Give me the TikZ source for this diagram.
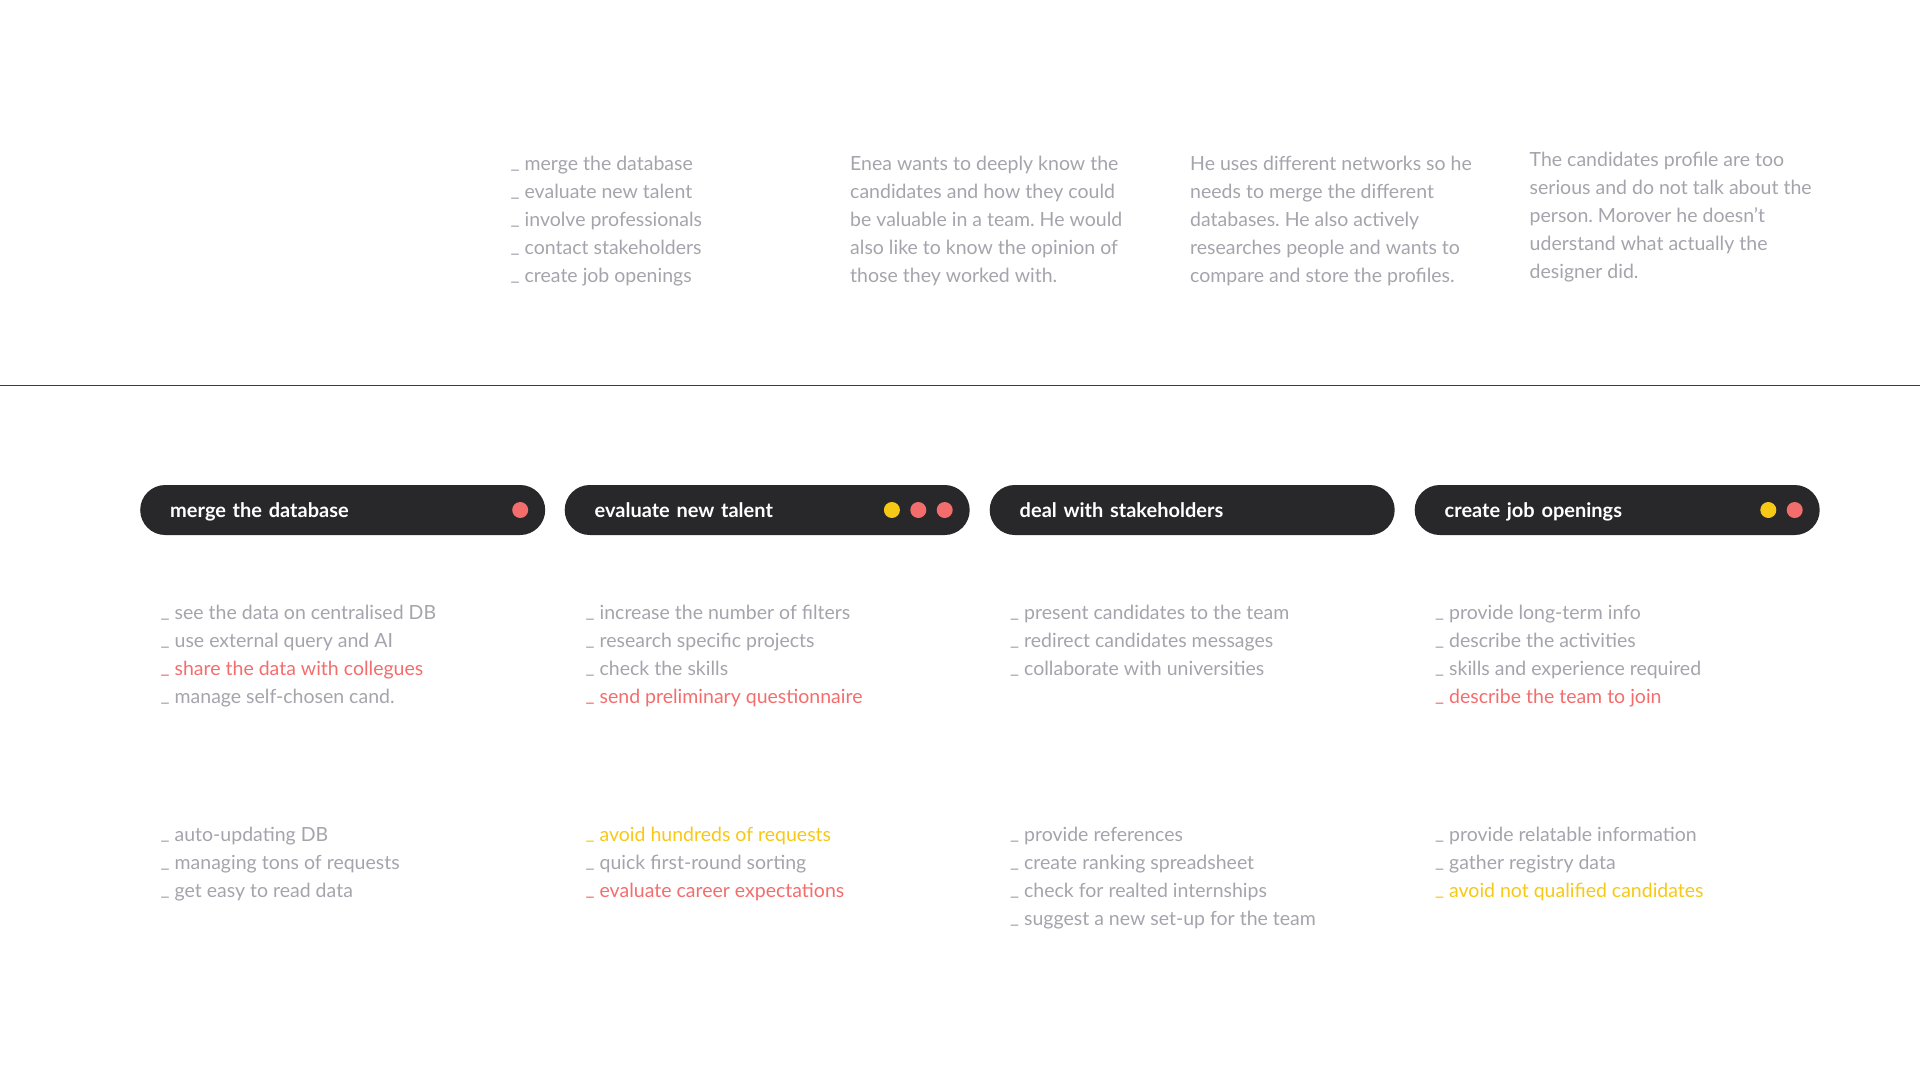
\documentclass[tikz,border=0pt]{standalone}
\usepackage{fontspec}
\setmainfont{Lato}[BoldFont=* Bold]
\usetikzlibrary{positioning}
\definecolor{txtgray}{HTML}{A4A4AC}
\definecolor{accred}{HTML}{F46D6D}
\definecolor{accyellow}{HTML}{F7C815}
\definecolor{pilldark}{HTML}{28282B}
\definecolor{ruleline}{HTML}{3C3C3C}
\frenchspacing
\newcommand{\bul}{\raisebox{2pt}{\_}\ }
\begin{document}
\begin{tikzpicture}[x=1pt,y=-1pt,
    item/.style={anchor=base west, inner sep=0pt, font=\fontsize{19.5}{28}\selectfont},
    pill/.style={fill=pilldark, rounded corners=25pt, minimum height=50pt, text width=345pt,
        inner xsep=30pt, inner ysep=0pt, align=left, anchor=west, text=white,
        text height=14pt, text depth=0pt, font=\fontsize{20}{24}\selectfont\bfseries},
    dotnode/.style={circle, fill=#1, minimum size=16pt, inner sep=0pt}]
    \useasboundingbox (0,0) rectangle (1920,1080);
    \def\dy{28.1} ;
    % top row: goals and notes
    \foreach \txt [count=\i] in {merge the database, evaluate new talent, involve professionals,
        contact stakeholders, create job openings}
        \node[item, text=txtgray] (goal-\i) at (510.5,{170+(\i-1)*\dy}) {\bul\txt};
    \foreach \txt [count=\i] in {Enea wants to deeply know the, candidates and how they could,
        be valuable in a team. He would, also like to know the opinion of, those they worked with.}
        \node[item, text=txtgray] (wish-\i) at (850,{170+(\i-1)*\dy}) {\txt};
    \foreach \txt [count=\i] in {He uses different networks so he, needs to merge the different,
        databases. He also actively, researches people and wants to, compare and store the profiles.}
        \node[item, text=txtgray] (habit-\i) at (1190,{170+(\i-1)*\dy}) {\txt};
    \foreach \txt [count=\i] in {The candidates profile are too, serious and do not talk about the,
        person. Morover he doesn’t, uderstand what actually the, designer did.}
        \node[item, text=txtgray] (pain-\i) at (1529.5,{166.3+(\i-1)*\dy}) {\txt};
    \draw[ruleline, line width=1.2pt] (0,385.5) -- (1920,385.5);
    % pills
    \node[pill] (merge) at (140,510) {merge the database};
    \node[pill] (talent) at (564.5,510) {evaluate new talent};
    \node[pill] (stake) at (989.5,510) {deal with stakeholders};
    \node[pill] (jobs) at (1414.5,510) {create job openings};
    \node[dotnode=accred, left=17pt of merge.east] (merge-d1) {};
    \node[dotnode=accred, left=17pt of talent.east] (talent-d1) {};
    \node[dotnode=accred, left=10pt of talent-d1] (talent-d2) {};
    \node[dotnode=accyellow, left=10pt of talent-d2] (talent-d3) {};
    \node[dotnode=accred, left=17pt of jobs.east] (jobs-d1) {};
    \node[dotnode=accyellow, left=10pt of jobs-d1] (jobs-d2) {};
    % needs
    \foreach \txt/\col [count=\i] in {see the data on centralised DB/txtgray, use external query and AI/txtgray,
        share the data with collegues/accred, manage self-chosen cand./txtgray}
        \node[item, text=\col] (merge-n\i) at (160.5,{619+(\i-1)*\dy}) {\bul\txt};
    \foreach \txt/\col [count=\i] in {increase the number of filters/txtgray, research specific projects/txtgray,
        check the skills/txtgray, send preliminary questionnaire/accred}
        \node[item, text=\col] (talent-n\i) at (585.5,{619+(\i-1)*\dy}) {\bul\txt};
    \foreach \txt/\col [count=\i] in {present candidates to the team/txtgray, redirect candidates messages/txtgray,
        collaborate with universities/txtgray}
        \node[item, text=\col] (stake-n\i) at (1010,{619+(\i-1)*\dy}) {\bul\txt};
    \foreach \txt/\col [count=\i] in {provide long-term info/txtgray, describe the activities/txtgray,
        skills and experience required/txtgray, describe the team to join/accred}
        \node[item, text=\col] (jobs-n\i) at (1435,{619+(\i-1)*\dy}) {\bul\txt};
    % outcomes
    \foreach \txt/\col [count=\i] in {auto-updating DB/txtgray, managing tons of requests/txtgray,
        get easy to read data/txtgray}
        \node[item, text=\col] (merge-o\i) at (160.5,{841+(\i-1)*\dy}) {\bul\txt};
    \foreach \txt/\col [count=\i] in {avoid hundreds of requests/accyellow, quick first-round sorting/txtgray,
        evaluate career expectations/accred}
        \node[item, text=\col] (talent-o\i) at (585.5,{841+(\i-1)*\dy}) {\bul\txt};
    \foreach \txt/\col [count=\i] in {provide references/txtgray, create ranking spreadsheet/txtgray,
        check for realted internships/txtgray, suggest a new set-up for the team/txtgray}
        \node[item, text=\col] (stake-o\i) at (1010,{841+(\i-1)*\dy}) {\bul\txt};
    \foreach \txt/\col [count=\i] in {provide relatable information/txtgray, gather registry data/txtgray,
        avoid not qualified candidates/accyellow}
        \node[item, text=\col] (jobs-o\i) at (1435,{841+(\i-1)*\dy}) {\bul\txt};
\end{tikzpicture}
\end{document}
